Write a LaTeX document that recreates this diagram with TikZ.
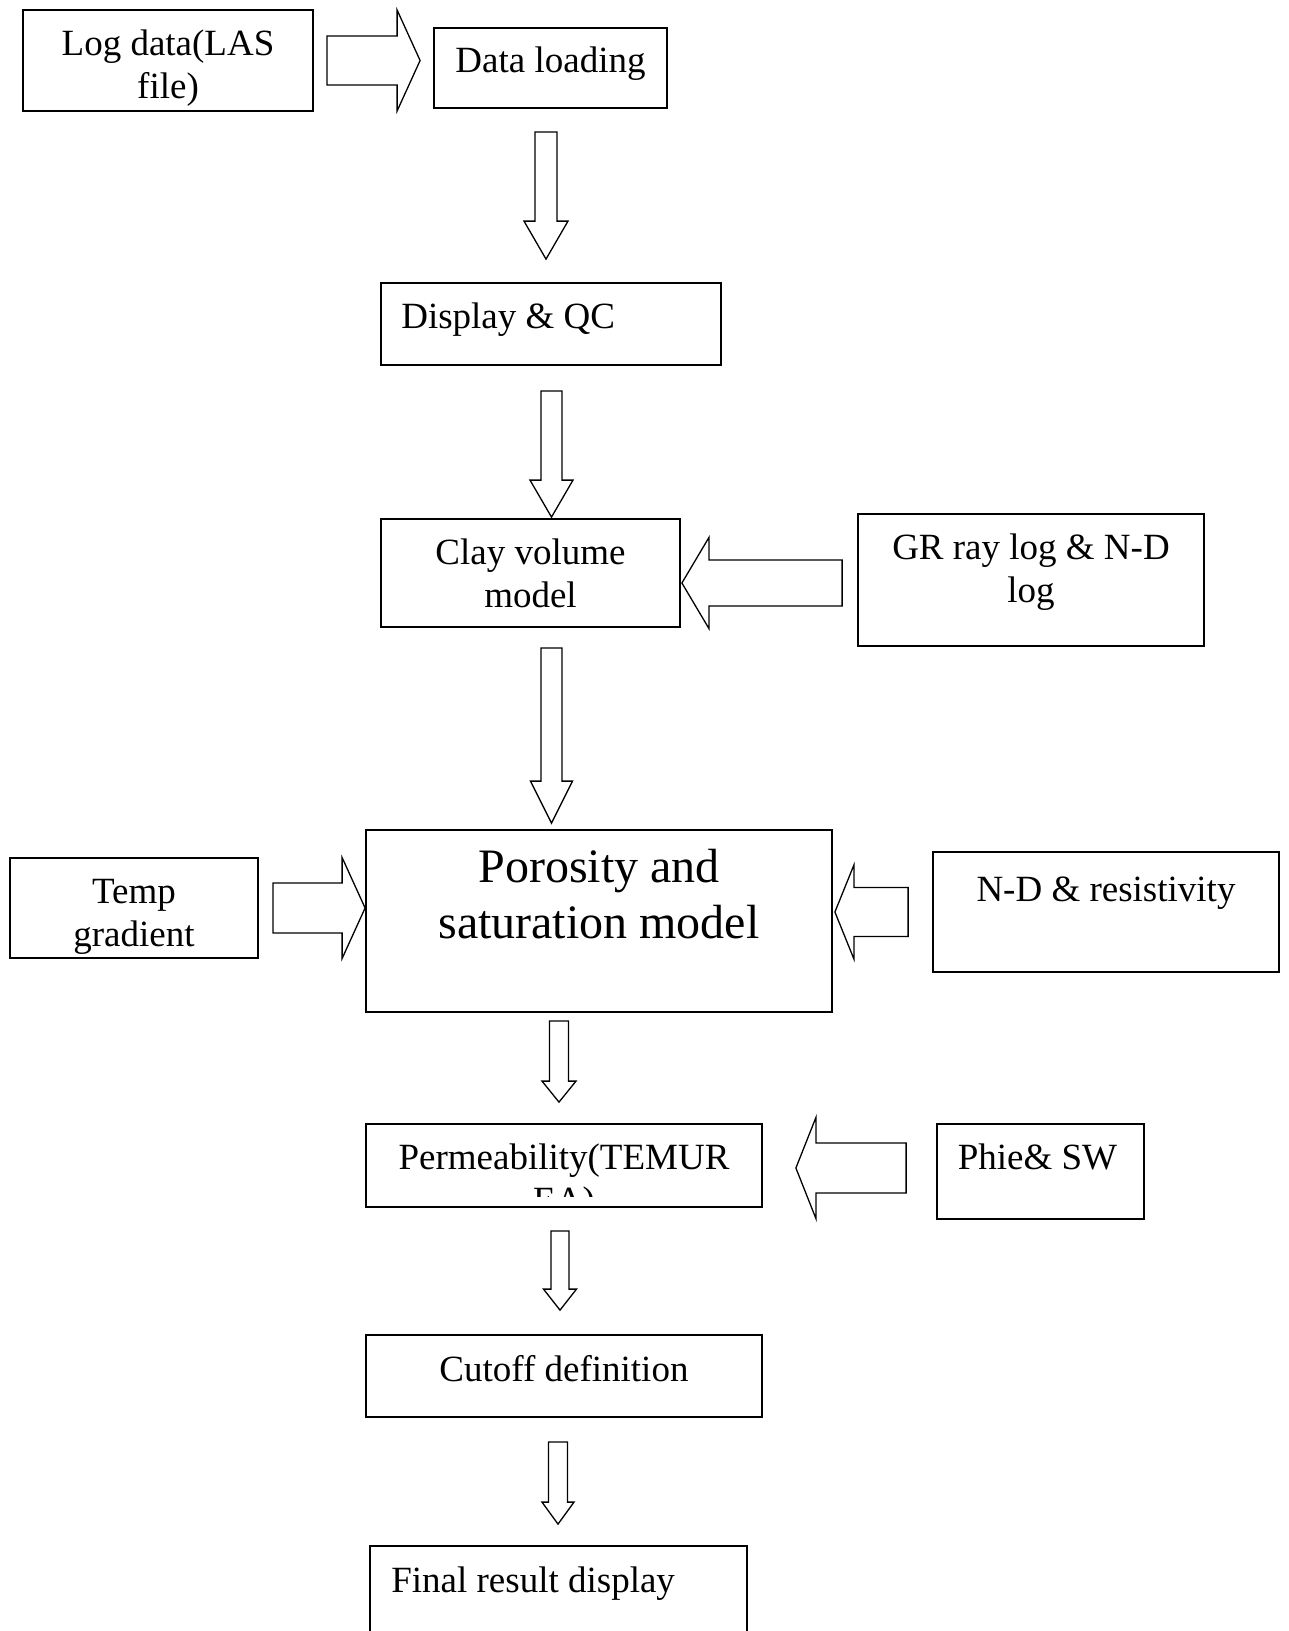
\documentclass[tikz,border=0pt]{standalone}
\usepackage{fontspec}
\setmainfont{Liberation Serif}
\usetikzlibrary{calc,positioning}

\tikzset{
	box/.style={draw, rectangle, line width=1.8pt, inner sep=0pt},
	txt/.style={font=\fontsize{37}{42.5}\selectfont, align=center, inner sep=0pt},
	fat/.style n args={3}{line width=1.3pt, line join=miter, to path={
		let \p1=(\tikztostart), \p2=(\tikztotarget), \p3=($(\p2)!#3!(\p1)$) in
		($(\p1)!#1!90:(\p2)$) -- ($(\p3)!#1!-90:(\p1)$) -- ($(\p3)!#2!-90:(\p1)$) -- (\p2)
		-- ($(\p3)!#2!90:(\p1)$) -- ($(\p3)!#1!90:(\p1)$) -- ($(\p1)!#1!-90:(\p2)$) -- cycle}}
}

\begin{document}
\begin{tikzpicture}[x=1pt, y=-1pt]
				\useasboundingbox (0,0) rectangle (1289,1631);
				\fill[white] (0,0) rectangle (1289,1631);
				\clip (0,0) rectangle (1289,1631);

				\node[box, minimum width=290pt, minimum height=101pt] (las) at (168,60.5) {};
				\node[box, minimum width=233pt, minimum height=80pt] (load) at (550.5,68) {};
				\node[box, minimum width=340pt, minimum height=82pt] (qc) at (551,324) {};
				\node[box, minimum width=299pt, minimum height=108pt] (clay) at (530.5,573) {};
				\node[box, minimum width=346pt, minimum height=132pt] (gr) at (1031,580) {};
				\node[box, minimum width=466pt, minimum height=182pt] (poro) at (599,921) {};
				\node[box, minimum width=248pt, minimum height=100pt] (temp) at (134,908) {};
				\node[box, minimum width=346pt, minimum height=120pt] (nd) at (1106,912) {};
				\node[box, minimum width=396pt, minimum height=83pt] (perm) at (564,1165.5) {};
				\node[box, minimum width=207pt, minimum height=95pt] (phie) at (1040.5,1171.5) {};
				\node[box, minimum width=396pt, minimum height=82pt] (cut) at (564,1376) {};
				\node[box, minimum width=377pt, minimum height=100pt] (final) at (558.5,1596) {};

				\node[txt, below=21pt of las.north] (lasT) {Log data(LAS\\file)};
				\node[txt, below=20pt of load.north] (loadT) {Data loading};
				\node[txt, below right=21pt and 21pt of qc.north west] (qcT) {Display \& QC};
				\node[txt, below=21pt of clay.north] (clayT) {Clay volume\\model};
				\node[txt, below=21pt of gr.north] (grT) {GR ray log \& N-D\\log};
				\node[txt, font=\fontsize{48}{56}\selectfont, below=20pt of poro.north] (poroT) {Porosity and\\saturation model};
				\node[txt, below=22pt of temp.north] (tempT) {Temp\\gradient};
				\node[txt, below=26pt of nd.north] (ndT) {N-D \& resistivity};
				\begin{scope}
					\clip (perm.north west) rectangle ($(perm.south east)+(0,-11)$);
					\node[txt, below=21pt of perm.north] (permT) {Permeability(TEMUR\\EA)};
				\end{scope}
				\node[txt, below=21pt of phie.north, xshift=-3pt] (phieT) {Phie\& SW};
				\node[txt, below=21pt of cut.north] (cutT) {Cutoff definition};
				\node[txt, below right=22pt and 22pt of final.north west] (finalT) {Final result display};

				\draw[fat={24.5pt}{50.5pt}{23pt}] ($(las.east)+(13,0)$) to ($(las.east -| load.west)+(-13,0)$);
				\draw[fat={11pt}{22pt}{38pt}] ($(load.south)+(-4.5,23)$) to ($(load.south |- qc.north)+(-4.5,-23)$);
				\draw[fat={10.5pt}{21.5pt}{37pt}] ($(qc.south)+(0.5,25)$) to ($(qc.south |- clay.north)+(0.5,-1)$);
				\draw[fat={23pt}{45.5pt}{27pt}] ($(gr.west)+(-15,3)$) to ($(clay.east |- gr.west)+(1,3)$);
				\draw[fat={10.5pt}{21pt}{42pt}] ($(clay.south)+(21,20)$) to ($(clay.south |- poro.north)+(21,-6)$);
				\draw[fat={25pt}{50.5pt}{23pt}] ($(temp.east)+(14,0)$) to (poro.west |- temp.east);
				\draw[fat={24.5pt}{47pt}{19pt}] ($(nd.west)+(-24,0)$) to ($(poro.east |- nd.west)+(2,0)$);
				\draw[fat={9.5pt}{17pt}{21pt}] ($(poro.south)+(-40,8)$) to ($(poro.south |- perm.north)+(-40,-21)$);
				\draw[fat={25pt}{50.5pt}{20pt}] ($(phie.west)+(-30,-3.5)$) to ($(perm.east |- phie.west)+(33,-3.5)$);
				\draw[fat={9pt}{16.5pt}{21pt}] ($(perm.south)+(-4,23)$) to ($(perm.south |- cut.north)+(-4,-24)$);
				\draw[fat={9.5pt}{16pt}{22pt}] ($(cut.south)+(-6,24)$) to ($(cut.south |- final.north)+(-6,-21)$);

\end{tikzpicture}
\end{document}
